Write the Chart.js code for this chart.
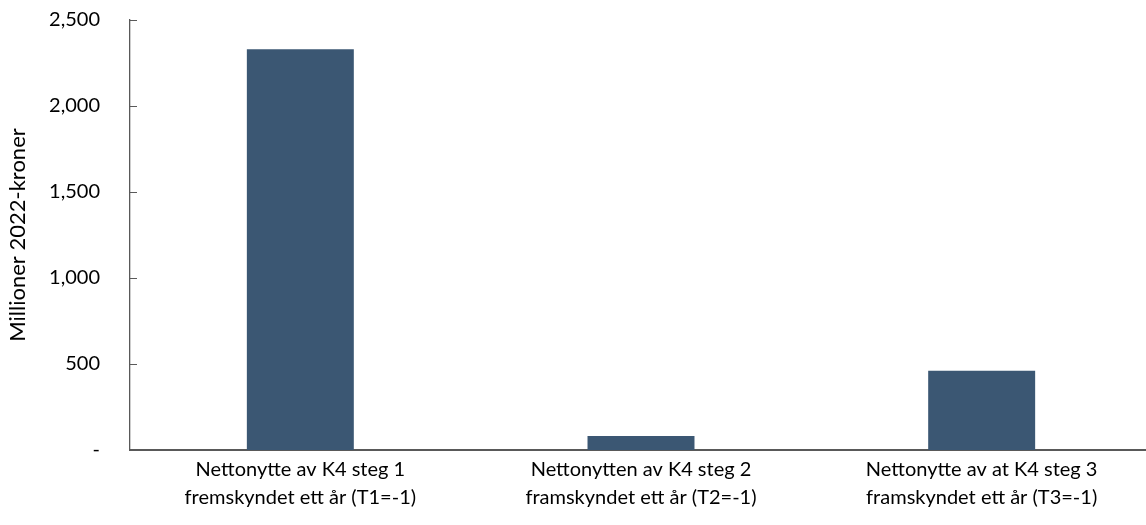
<!DOCTYPE html>
<html><head><meta charset="utf-8">
<script src="https://cdn.jsdelivr.net/npm/chart.js@4"></script>
<style>html,body{margin:0;padding:0;background:#fff;overflow:hidden}#wrap{width:1146px;height:525px;position:relative;overflow:hidden}</style>
</head><body><div id="wrap"><canvas id="c" width="1152" height="525"></canvas></div>
<script>
const categories = [
  ["Nettonytte av K4 steg 1", "fremskyndet ett år (T1=-1)"],
  ["Nettonytten av K4 steg 2", "framskyndet ett år (T2=-1)"],
  ["Nettonytte av at K4 steg 3", "framskyndet ett år (T3=-1)"]
];
const values = [2330, 81, 461];
const yTicks = [0, 500, 1000, 1500, 2000, 2500];
const yTitle = "Millioner 2022-kroner";

const FONT = "Lato, 'Open Sans', sans-serif";
const innerTicks = {
  id: 'innerTicks',
  afterDraw(chart) {
    const y = chart.scales.y, ctx = chart.ctx;
    ctx.save();
    ctx.strokeStyle = '#595959';
    ctx.lineWidth = 1;
    yTicks.forEach(v => {
      if (v === 0) return;
      const py = Math.round(y.getPixelForValue(v)) + 0.5;
      ctx.beginPath();
      ctx.moveTo(y.right, py);
      ctx.lineTo(y.right + 7, py);
      ctx.stroke();
    });
    ctx.restore();
  }
};

new Chart(document.getElementById('c'), {
  type: 'bar',
  data: {
    labels: categories,
    datasets: [{ data: values, backgroundColor: '#3B5773', borderWidth: 0,
      categoryPercentage: 1.0, barPercentage: 0.314 }]
  },
  options: {
    responsive: false,
    animation: false,
    layout: { padding: { top: 20, right: 0, left: 0, bottom: 0 } },
    plugins: { legend: { display: false }, tooltip: { enabled: false } },
    scales: {
      x: {
        grid: { display: false, drawTicks: false },
        border: { display: true, color: '#595959', width: 2 },
        afterFit(s) { s.height = 75; s.paddingLeft = 0; s.paddingRight = 0; s.paddingTop = 0; s.paddingBottom = 0; },
        ticks: { color: '#000', font: { family: FONT, size: 20, lineHeight: 1.4 }, padding: 6, maxRotation: 0 }
      },
      y: {
        min: 0, max: 2500,
        afterBuildTicks(scale) { scale.ticks = yTicks.map(v => ({ value: v })); },
        afterFit(s) { s.width = 130; s.paddingTop = 0; s.paddingBottom = 0; s.paddingLeft = 0; s.paddingRight = 0; },
        grid: { display: false, drawTicks: false },
        border: { display: true, color: '#595959', width: 1.3 },
        title: { display: true, text: yTitle, color: '#000', font: { family: FONT, size: 22 }, padding: { top: 5, bottom: 0 } },
        ticks: { color: '#000', font: { family: FONT, size: 20 }, padding: 30,
          callback: v => v === 0 ? '-' : v.toLocaleString('en-US') }
      }
    }
  },
  plugins: [innerTicks]
});
</script></body></html>
